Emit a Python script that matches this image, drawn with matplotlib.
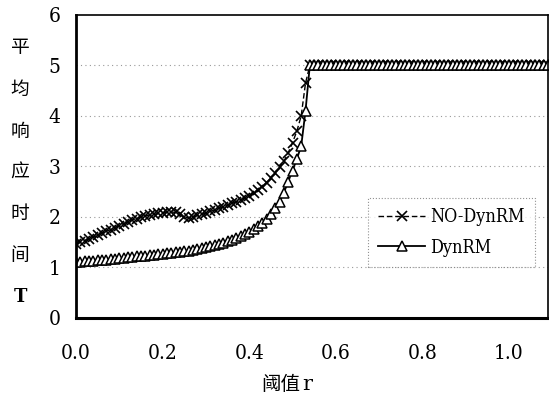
import numpy as np
import matplotlib.pyplot as plt
from matplotlib import font_manager

# threshold r, step 0.01 from 0.00 to 1.09
r = np.round(np.arange(0, 110) * 0.01, 2)

# rising part, r = 0.00 .. 0.53
no_dyn_rise = [1.47, 1.50, 1.53, 1.57, 1.60, 1.64, 1.68, 1.72, 1.75, 1.79,
               1.83, 1.87, 1.90, 1.94, 1.97, 2.00, 2.02, 2.04, 2.05, 2.07,
               2.08, 2.10, 2.10, 2.09, 2.05, 2.00, 1.98, 2.00, 2.03, 2.05,
               2.08, 2.11, 2.14, 2.17, 2.20, 2.23, 2.27, 2.30, 2.34, 2.38,
               2.42, 2.47, 2.53, 2.60, 2.68, 2.77, 2.87, 2.98, 3.10, 3.27,
               3.47, 3.70, 4.00, 4.65]
dyn_rise = [1.10, 1.11, 1.12, 1.12, 1.13, 1.14, 1.15, 1.15, 1.16, 1.17,
            1.18, 1.19, 1.20, 1.21, 1.22, 1.22, 1.23, 1.24, 1.25, 1.26,
            1.27, 1.28, 1.29, 1.30, 1.31, 1.32, 1.33, 1.35, 1.36, 1.38,
            1.40, 1.42, 1.44, 1.46, 1.49, 1.52, 1.55, 1.58, 1.62, 1.66,
            1.71, 1.76, 1.82, 1.89, 1.97, 2.06, 2.17, 2.30, 2.48, 2.70,
            2.92, 3.15, 3.40, 4.10]
# saturated part, r = 0.54 .. 1.09 (both series sit at 5)
flat = [5.0, 5.0, 5.0, 5.0, 5.0, 5.0, 5.0, 5.0, 5.0, 5.0,
        5.0, 5.0, 5.0, 5.0, 5.0, 5.0, 5.0, 5.0, 5.0, 5.0,
        5.0, 5.0, 5.0, 5.0, 5.0, 5.0, 5.0, 5.0, 5.0, 5.0,
        5.0, 5.0, 5.0, 5.0, 5.0, 5.0, 5.0, 5.0, 5.0, 5.0,
        5.0, 5.0, 5.0, 5.0, 5.0, 5.0, 5.0, 5.0, 5.0, 5.0,
        5.0, 5.0, 5.0, 5.0, 5.0, 5.0]

no_dyn = no_dyn_rise + flat
dyn = dyn_rise + flat

xticks = [0.0, 0.2, 0.4, 0.6, 0.8, 1.0]
xticklabels = ['0.0', '0.2', '0.4', '0.6', '0.8', '1.0']
yticks = [0, 1, 2, 3, 4, 5, 6]
ylabel_chars = ['平', '均', '响', '应', '时', '间', 'T']

cjk = ['Noto Sans CJK SC', 'DejaVu Sans']
# narrow serif for numbers, like the scanned original
num_font = font_manager.FontProperties(family='DejaVu Serif', stretch='condensed', size=15)
leg_font = font_manager.FontProperties(family='DejaVu Serif', stretch='condensed', size=13)

fig = plt.figure(figsize=(5.49, 4.04), dpi=100)
ax = fig.add_axes([0.1384, 0.2129, 0.8598, 0.7500])

ax.plot(r, no_dyn, color='black', linestyle=(0, (4, 2)), linewidth=1.0,
        marker='x', markersize=7, markeredgewidth=1.2, label='NO-DynRM')
ax.plot(r, dyn, color='black', linestyle='-', linewidth=1.3,
        marker='^', markersize=6.5, markerfacecolor='white',
        markeredgewidth=1.1, label='DynRM')

ax.set_xlim(0, 1.09)
ax.set_ylim(0, 6)
ax.set_xticks(xticks)
ax.set_xticklabels(xticklabels, fontproperties=num_font)
ax.set_yticks(yticks)
ax.set_yticklabels([str(v) for v in yticks], fontproperties=num_font)
ax.tick_params(axis='x', length=0, pad=19)
ax.tick_params(axis='y', length=0, pad=11)

for v in [1, 2, 3, 4, 5]:
    ax.axhline(v, color='#999999', linestyle=(0, (1, 3)), linewidth=0.8, zorder=0)

ax.spines['left'].set_linewidth(2.0)
ax.spines['bottom'].set_linewidth(2.2)
ax.spines['top'].set_linewidth(1.2)
ax.spines['right'].set_linewidth(1.2)

leg = ax.legend(loc='upper left', bbox_to_anchor=(0.60, 0.425),
                prop=leg_font, frameon=True,
                fancybox=False, handlelength=2.6, handletextpad=0.3,
                borderpad=0.55, labelspacing=0.7)
leg.get_frame().set_edgecolor('#777777')
leg.get_frame().set_linestyle(':')
leg.get_frame().set_linewidth(0.8)

# vertical stacked y-label
y0 = 1 - 48 / 404
step = 41.5 / 404
for i, ch in enumerate(ylabel_chars):
    if ch == 'T':
        fig.text(20 / 549, y0 - i * step, ch, ha='center', va='center',
                 fontsize=13, family='DejaVu Serif', fontweight='bold')
    else:
        fig.text(20 / 549, y0 - i * step, ch, ha='center', va='center',
                 fontsize=13.5, family=cjk)

fig.text(300 / 549, 1 - 384 / 404, '阈值', ha='right', va='center',
         fontsize=14, family=cjk)
fig.text(302 / 549, 1 - 384 / 404, 'r', ha='left', va='center',
         fontsize=15, family='DejaVu Serif')

fig.savefig('out.png', dpi=100)
